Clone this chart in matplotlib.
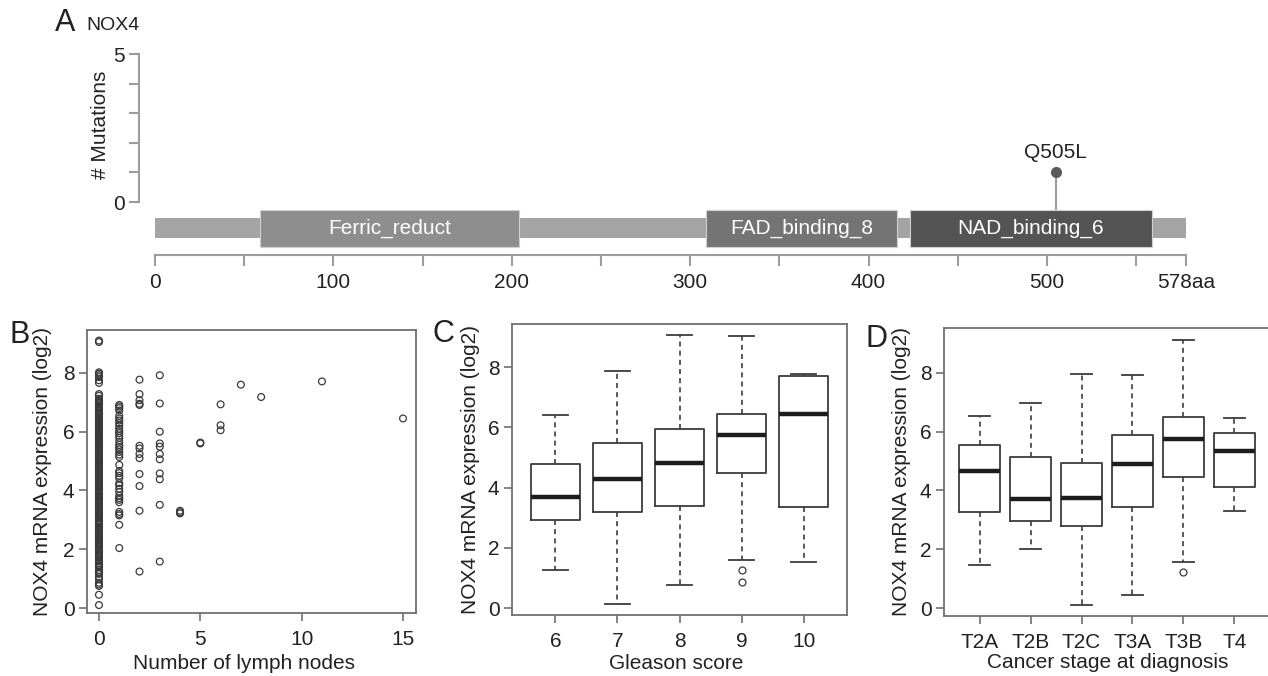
import matplotlib.pyplot as plt
import numpy as np

plt.rcParams['font.family'] = ['Liberation Sans', 'DejaVu Sans']

# ---- panel A data: NOX4 protein / mutations
protein_len = 578
domain_names = ["Ferric_reduct", "FAD_binding_8", "NAD_binding_6"]
domain_start = [59, 309, 423]
domain_end = [204, 416, 559]
domain_colors = ["#8e8e8e", "#747474", "#545454"]
mut_pos = [505]
mut_count = [1]
mut_label = ["Q505L"]
aa_ticks = [0, 50, 100, 150, 200, 250, 300, 350, 400, 450, 500, 550, 578]
aa_labels = ["0", "", "100", "", "200", "", "300", "", "400", "", "500", "", "578aa"]

# ---- panel B data: lymph nodes vs expression
nodes0 = [9.1, 9.05, 8.02, 7.97, 7.92, 7.86, 7.75, 7.66, 7.28, 7.22, 7.12, 7.08,
          7.03, 6.98, 6.94, 6.88, 6.85, 6.79, 6.74, 6.71, 6.66, 6.6, 6.57, 6.52,
          6.47, 6.44, 6.39, 6.35, 6.3, 6.27, 6.21, 6.18, 6.13, 6.1, 6.04, 6.01,
          5.96, 5.93, 5.87, 5.84, 5.79, 5.76, 5.7, 5.66, 5.63, 5.57, 5.54, 5.49,
          5.44, 5.41, 5.37, 5.31, 5.28, 5.22, 5.19, 5.15, 5.09, 5.06, 5.02, 4.96,
          4.93, 4.89, 4.83, 4.8, 4.74, 4.71, 4.67, 4.61, 4.58, 4.54, 4.48, 4.45,
          4.39, 4.36, 4.32, 4.26, 4.23, 4.19, 4.13, 4.1, 4.04, 4.01, 3.97, 3.91,
          3.88, 3.84, 3.78, 3.75, 3.69, 3.66, 3.62, 3.56, 3.53, 3.48, 3.43, 3.4,
          3.34, 3.31, 3.27, 3.21, 3.18, 3.12, 3.09, 3.05, 2.99, 2.96, 2.9, 2.87,
          2.83, 2.77, 2.74, 2.68, 2.65, 2.61, 2.55, 2.52, 2.46, 2.43, 2.38, 2.33,
          2.3, 2.24, 2.21, 2.15, 2.11, 2.06, 2.01, 1.95, 1.9, 1.84, 1.77, 1.73,
          1.66, 1.58, 1.52, 1.46, 1.38, 1.29, 1.23, 1.16, 1.06, 0.98, 0.86, 0.8,
          0.75, 0.45, 0.1,
          7.0, 6.82, 6.63, 6.41, 6.24, 6.07, 5.9, 5.73, 5.6, 5.46, 5.34, 5.12,
          4.99, 4.86, 4.64, 4.51, 4.29, 4.16, 3.94, 3.81, 3.59, 3.46, 3.24, 3.15,
          2.93, 2.71, 2.58, 2.36, 2.18, 1.98, 1.8, 1.62, 1.42, 1.2]
nodes1 = [6.91, 6.86, 6.8, 6.72, 6.54, 6.45, 6.38, 6.29, 6.2, 6.1, 6.02, 5.95,
          5.86, 5.79, 5.66, 5.55, 5.48, 5.4, 5.31, 5.22, 5.14, 4.87, 4.66, 4.59,
          4.5, 4.42, 4.25, 4.17, 4.06, 3.95, 3.82, 3.74, 3.68, 3.6, 3.27, 3.2,
          3.15, 2.83, 2.04]
nodes2 = [7.77, 7.28, 7.07, 6.95, 6.91, 5.52, 5.43, 5.24, 5.1, 4.56, 4.15, 3.31, 1.24]
nodes3 = [7.92, 6.96, 6.0, 5.6, 5.49, 5.24, 5.06, 4.58, 4.38, 3.51, 1.58]
nodes4 = [3.31, 3.26, 3.22]
nodes5 = [5.63, 5.6]
nodes6 = [6.93, 6.22, 6.05]
nodes_other_x = [7, 8, 11, 15]
nodes_other_y = [7.6, 7.18, 7.71, 6.45]

# ---- panel C data: Gleason score boxes
gleason = ["6", "7", "8", "9", "10"]
g_whislo = [1.27, 0.13, 0.77, 1.60, 1.53]
g_q1 = [2.92, 3.19, 3.39, 4.48, 3.36]
g_med = [3.68, 4.28, 4.82, 5.74, 6.43]
g_q3 = [4.77, 5.49, 5.93, 6.45, 7.70]
g_whishi = [6.40, 7.88, 9.07, 9.04, 7.76]
g_fliers = [[], [], [], [1.27, 0.85], []]

# ---- panel D data: cancer stage boxes
stages = ["T2A", "T2B", "T2C", "T3A", "T3B", "T4"]
s_whislo = [1.46, 2.00, 0.10, 0.46, 1.58, 3.31]
s_q1 = [3.27, 2.96, 2.79, 3.44, 4.47, 4.11]
s_med = [4.67, 3.72, 3.73, 4.89, 5.74, 5.34]
s_q3 = [5.53, 5.12, 4.94, 5.87, 6.48, 5.94]
s_whishi = [6.53, 6.96, 7.95, 7.91, 9.11, 6.46]
s_fliers = [[], [], [], [], [1.24], []]

W, H = 1268, 676
fig = plt.figure(figsize=(W / 100, H / 100), dpi=100)

def frac(left, top, right, bottom):
    return [left / W, 1 - bottom / H, (right - left) / W, (bottom - top) / H]

# ================= panel A
axa = fig.add_axes(frac(139, 54, 1189.6, 255))
axa.set_xlim(-8.97, 580)
axa.set_ylim(-1.79, 5.0)
for s in ["top", "right"]:
    axa.spines[s].set_visible(False)
for s in ["left", "bottom"]:
    axa.spines[s].set_color("#9c9c9c")
    axa.spines[s].set_linewidth(1.5)
axa.spines["left"].set_bounds(0, 5)
axa.spines["bottom"].set_bounds(0, protein_len)
axa.set_yticks([0, 1, 2, 3, 4, 5])
axa.set_yticklabels(["0", "", "", "", "", "5"])
axa.set_xticks(aa_ticks)
axa.set_xticklabels(aa_labels)
axa.tick_params(axis="y", length=7, width=1.5, color="#9c9c9c", pad=3,
                labelsize=15, labelcolor="#222222")
axa.tick_params(axis="x", length=8, width=1.5, color="#9c9c9c", pad=5,
                labelsize=15, labelcolor="#222222")
axa.set_ylabel("# Mutations", fontsize=15, color="#222222", va="center")
axa.yaxis.set_label_coords(-0.037, 0.65)

# backbone
axa.barh(-0.88, protein_len, left=0, height=0.68, color="#a4a4a4", zorder=1)
for name, st, en, c in zip(domain_names, domain_start, domain_end, domain_colors):
    axa.barh(-0.895, en - st, left=st, height=1.25, color=c,
             edgecolor="#d0d0d0", linewidth=0.8, zorder=2)
    axa.text((st + en) / 2, -0.9, name, color="white", fontsize=15,
             ha="center", va="center", zorder=3)

# lollipop
for p, n, lab in zip(mut_pos, mut_count, mut_label):
    axa.vlines(p, -0.27, n, color="#9c9c9c", linewidth=1.5, zorder=1)
    axa.plot([p], [n], "o", color="#5a5a5a", markersize=7, zorder=4)
    axa.text(p, n + 0.68, lab, fontsize=15, color="#222222",
             ha="center", va="center")

fig.text(55 / W, 1 - 23 / H, "A", fontsize=22, color="#222222", va="center")
fig.text(86 / W, 1 - 25 / H, "NOX4", fontsize=14, color="#222222", va="center")

# ================= shared style for B-D
def style_box_axes(ax):
    for s in ax.spines.values():
        s.set_color("#707070")
        s.set_linewidth(1.3)
    ax.tick_params(length=6, width=1.2, color="#707070", labelsize=15,
                   labelcolor="#222222")
    ax.tick_params(axis="x", pad=6)
    ax.tick_params(axis="y", pad=3)
    ax.set_yticks([0, 2, 4, 6, 8])

ylab = "NOX4 mRNA expression (log2)"

# ================= panel B
axb = fig.add_axes(frac(87, 330, 416, 613))
point_kw = dict(facecolors="none", edgecolors="#3a3a3a", s=24, linewidths=0.9)
axb.scatter([0] * len(nodes0), nodes0, **point_kw)
axb.scatter([1] * len(nodes1), nodes1, **point_kw)
axb.scatter([2] * len(nodes2), nodes2, **point_kw)
axb.scatter([3] * len(nodes3), nodes3, **point_kw)
axb.scatter([4] * len(nodes4), nodes4, **point_kw)
axb.scatter([5] * len(nodes5), nodes5, **point_kw)
axb.scatter([6] * len(nodes6), nodes6, **point_kw)
axb.scatter(nodes_other_x, nodes_other_y, **point_kw)
axb.set_xlim(-0.59, 15.64)
axb.set_ylim(-0.17, 9.46)
axb.set_xticks([0, 5, 10, 15])
style_box_axes(axb)
axb.set_ylabel(ylab, fontsize=15, color="#222222", va="center")
axb.yaxis.set_label_coords(-0.134, 0.5)
axb.set_xlabel("Number of lymph nodes", fontsize=15, color="#222222", va="center")
axb.xaxis.set_label_coords(0.477, -0.177)
fig.text(10 / W, 1 - 335 / H, "B", fontsize=22, color="#222222", va="center")

# ================= boxplot helper
def draw_boxes(ax, labels, whislo, q1, med, q3, whishi, fliers):
    stats = []
    for i in range(len(labels)):
        stats.append({"whislo": whislo[i], "q1": q1[i], "med": med[i],
                      "q3": q3[i], "whishi": whishi[i], "fliers": fliers[i]})
    pos = np.arange(1, len(labels) + 1)
    ax.bxp(stats, positions=pos, widths=0.8, capwidths=0.4,
           boxprops=dict(color="#3c3c3c", linewidth=1.3),
           whiskerprops=dict(color="#3c3c3c", linewidth=1.2, linestyle=(0, (3, 2.5))),
           capprops=dict(color="#3c3c3c", linewidth=1.3),
           medianprops=dict(color="#1c1c1c", linewidth=3.2),
           flierprops=dict(marker="o", markerfacecolor="none",
                           markeredgecolor="#3a3a3a", markersize=5, markeredgewidth=0.9))
    ax.set_xticks(pos)
    ax.set_xticklabels(labels)
    ax.set_xlim(0.3, len(labels) + 0.7)

# ================= panel C
axc = fig.add_axes(frac(512, 324, 847, 615))
draw_boxes(axc, gleason, g_whislo, g_q1, g_med, g_q3, g_whishi, g_fliers)
axc.set_ylim(-0.23, 9.43)
style_box_axes(axc)
axc.set_ylabel(ylab, fontsize=15, color="#222222", va="center")
axc.yaxis.set_label_coords(-0.125, 0.5)
axc.set_xlabel("Gleason score", fontsize=15, color="#222222", va="center")
axc.xaxis.set_label_coords(0.49, -0.165)
fig.text(433 / W, 1 - 334 / H, "C", fontsize=22, color="#222222", va="center")

# ================= panel D
axd = fig.add_axes(frac(944, 328, 1270, 616))
draw_boxes(axd, stages, s_whislo, s_q1, s_med, s_q3, s_whishi, s_fliers)
axd.set_ylim(-0.27, 9.52)
style_box_axes(axd)
axd.set_ylabel(ylab, fontsize=15, color="#222222", va="center")
axd.yaxis.set_label_coords(-0.129, 0.5)
axd.set_xlabel("Cancer stage at diagnosis", fontsize=15, color="#222222", va="center")
axd.xaxis.set_label_coords(0.503, -0.163)
fig.text(866 / W, 1 - 339 / H, "D", fontsize=22, color="#222222", va="center")

fig.savefig("out.png", dpi=100)
